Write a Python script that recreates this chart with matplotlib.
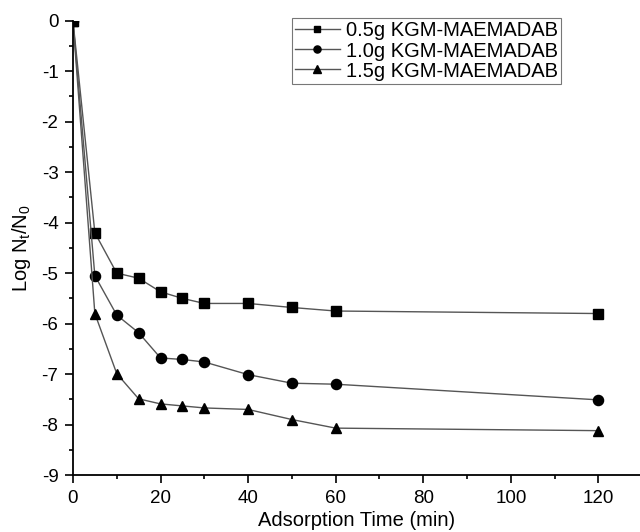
import matplotlib.pyplot as plt
from matplotlib.ticker import MultipleLocator

plt.rcParams['font.family'] = ['Liberation Sans', 'DejaVu Sans']
plt.rcParams['axes.unicode_minus'] = False
plt.rcParams['mathtext.default'] = 'regular'

time_min = [0, 5, 10, 15, 20, 25, 30, 40, 50, 60, 120]
log_05g = [0, -4.2, -5.0, -5.1, -5.37, -5.5, -5.6, -5.6, -5.68, -5.75, -5.8]
log_10g = [0, -5.05, -5.83, -6.18, -6.68, -6.71, -6.76, -7.01, -7.18, -7.2, -7.51]
log_15g = [0, -5.8, -6.99, -7.49, -7.59, -7.63, -7.67, -7.7, -7.9, -8.07, -8.12]
labels = ["0.5g KGM-MAEMADAB", "1.0g KGM-MAEMADAB", "1.5g KGM-MAEMADAB"]

fig = plt.figure(figsize=(6.4, 5.32), dpi=100)
ax = fig.add_axes([0.114, 0.107, 0.886, 0.854])

for y, m, ms in zip([log_05g, log_10g, log_15g], ["s", "o", "^"], [6.5, 7.3, 7.8]):
    ax.plot(time_min, y, color="#555555", lw=1.0, marker=m, ms=ms,
            mfc="black", mec="black")

ax.set_xlim(0, 129.5)
ax.set_ylim(-9, 0)
ax.xaxis.set_major_locator(MultipleLocator(20))
ax.xaxis.set_minor_locator(MultipleLocator(10))
ax.yaxis.set_major_locator(MultipleLocator(1))
ax.yaxis.set_minor_locator(MultipleLocator(0.5))
ax.tick_params(which="major", direction="out", length=5.5, width=1.2,
               labelsize=13.5, pad=5)
ax.tick_params(which="minor", direction="out", length=3, width=1.2)
ax.spines["top"].set_visible(False)
ax.spines["right"].set_visible(False)
ax.spines["left"].set_linewidth(1.3)
ax.spines["bottom"].set_linewidth(1.3)

ax.set_xlabel("Adsorption Time (min)", fontsize=14.5, labelpad=3)
ax.set_ylabel("Log N$_t$/N$_0$", fontsize=14.5, labelpad=6)

leg = ax.legend(labels, loc="upper right", bbox_to_anchor=(0.86, 1.005),
                fontsize=14.5, frameon=True, fancybox=False, borderpad=0.15,
                labelspacing=0.05, handlelength=2.2, handletextpad=0.3,
                borderaxespad=0, markerscale=0.7)
leg.get_frame().set_edgecolor("#555555")
leg.get_frame().set_linewidth(0.8)

fig.savefig("out.png", dpi=100)
